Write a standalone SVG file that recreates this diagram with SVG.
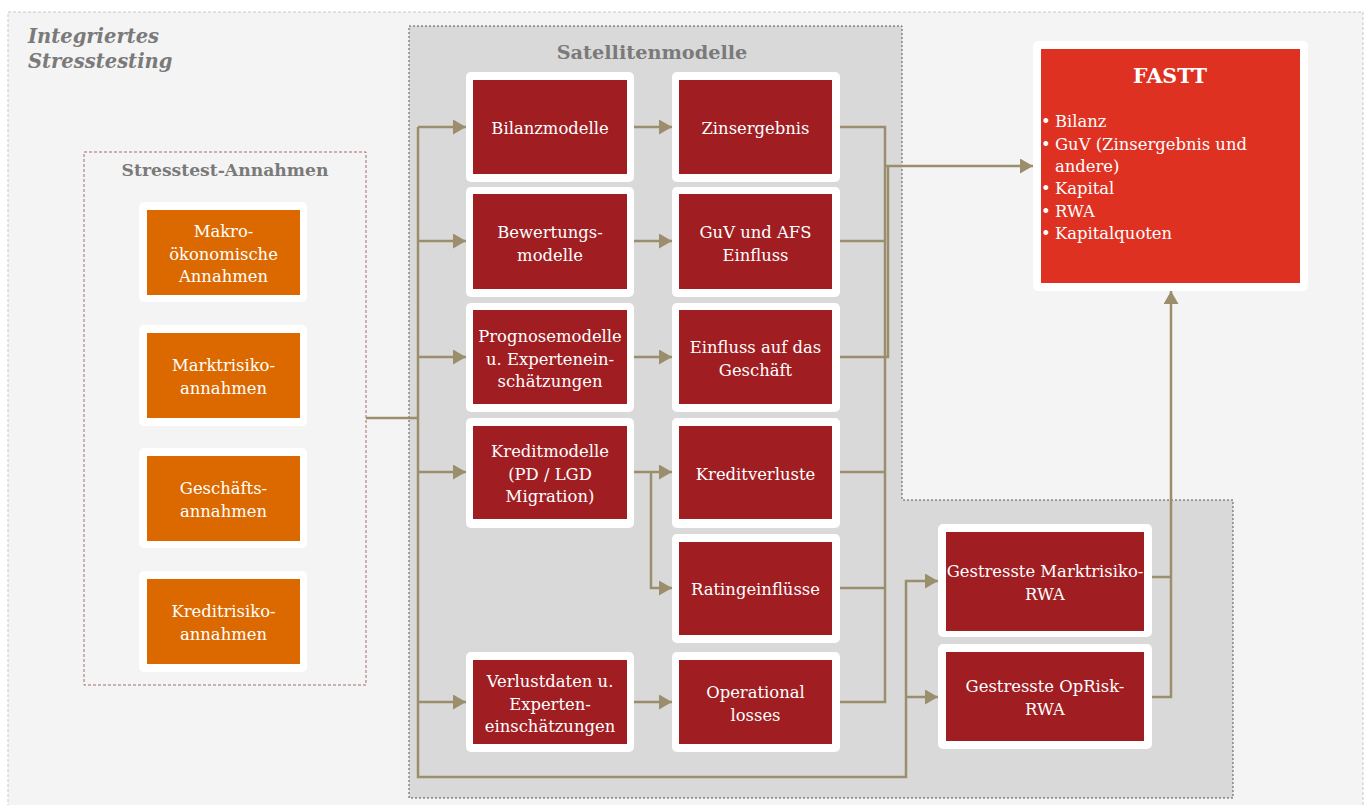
<svg xmlns="http://www.w3.org/2000/svg" width="1370" height="805" viewBox="0 0 1370 805">
<style>
.t{font-family:"DejaVu Serif","Liberation Serif",serif;font-size:16.4px;fill:#ffffff;text-anchor:middle}
.hdr{font-family:"DejaVu Serif","Liberation Serif",serif;font-weight:bold;fill:#7a7a7a;text-anchor:middle}
.wb{fill:#ffffff}
.red{fill:#a01e22}
.org{fill:#dc6900}
.c{fill:none;stroke:#9b8e6c;stroke-width:2.5}
</style>
<defs>
<marker id="ah" markerUnits="userSpaceOnUse" markerWidth="15" markerHeight="15" refX="13" refY="7.5" orient="auto"><path d="M0,0 L13,7.5 L0,15 Z" fill="#9b8e6c"/></marker>
</defs>
<rect x="0" y="0" width="1370" height="805" fill="#ffffff"/>
<rect x="8" y="12" width="1355" height="800" fill="#f4f4f4" stroke="#c8c8c8" stroke-width="1" stroke-dasharray="3,2"/>
<g id="title">
<text font-family="'DejaVu Serif','Liberation Serif',serif" font-weight="bold" font-style="italic" font-size="19.5px" fill="#7a7a7a"><tspan x="28" y="43">Integriertes</tspan><tspan x="28" y="68">Stresstesting</tspan></text>
</g>
<g id="containers">
<rect x="409" y="26" width="493" height="772" fill="#d9d9d9"/>
<rect x="902" y="500" width="331" height="298" fill="#d9d9d9"/>
<path d="M409,26 H902 V500 H1233 V798 H409 Z" fill="none" stroke="#555555" stroke-width="1" stroke-dasharray="2,2"/>
<rect x="84" y="152" width="282" height="533" fill="#f4f4f4" stroke="#a86a6a" stroke-width="1" stroke-dasharray="3,2"/>
<text class="hdr" x="652" y="59" style="font-size:19.3px">Satellitenmodelle</text>
<text class="hdr" x="225" y="176" style="font-size:17.2px">Stresstest-Annahmen</text>
</g>
<g id="makro"><rect class="wb" x="139" y="202" width="168" height="100" rx="5"/><rect class="org" x="147" y="210" width="153" height="85"/><text class="t"><tspan x="223.5" y="237">Makro-</tspan><tspan x="223.5" y="259.5">ökonomische</tspan><tspan x="223.5" y="282">Annahmen</tspan></text></g>
<g id="markt"><rect class="wb" x="139" y="325" width="168" height="101" rx="5"/><rect class="org" x="147" y="333" width="153" height="85"/><text class="t"><tspan x="223.5" y="371">Marktrisiko-</tspan><tspan x="223.5" y="394">annahmen</tspan></text></g>
<g id="geschaeft"><rect class="wb" x="139" y="448" width="168" height="100" rx="5"/><rect class="org" x="147" y="456" width="153" height="85"/><text class="t"><tspan x="223.5" y="494">Geschäfts-</tspan><tspan x="223.5" y="517">annahmen</tspan></text></g>
<g id="kredit"><rect class="wb" x="139" y="571" width="168" height="101" rx="5"/><rect class="org" x="147" y="579" width="153" height="85"/><text class="t"><tspan x="223.5" y="617">Kreditrisiko-</tspan><tspan x="223.5" y="640">annahmen</tspan></text></g>

<g id="bilanzmodelle"><rect class="wb" x="466" y="72" width="168" height="110" rx="5"/><rect class="red" x="473" y="80" width="154" height="94"/><text class="t" x="550" y="134">Bilanzmodelle</text></g>
<g id="zinsergebnis"><rect class="wb" x="672" y="72" width="168" height="110" rx="5"/><rect class="red" x="679" y="80" width="153" height="94"/><text class="t" x="755.5" y="134">Zinsergebnis</text></g>
<g id="bewertung"><rect class="wb" x="466" y="187" width="168" height="110" rx="5"/><rect class="red" x="473" y="194" width="154" height="95"/><text class="t"><tspan x="550" y="238">Bewertungs-</tspan><tspan x="550" y="260.5">modelle</tspan></text></g>
<g id="guv"><rect class="wb" x="672" y="187" width="168" height="110" rx="5"/><rect class="red" x="679" y="194" width="153" height="95"/><text class="t"><tspan x="755.5" y="238">GuV und AFS</tspan><tspan x="755.5" y="260.5">Einfluss</tspan></text></g>
<g id="prognose"><rect class="wb" x="466" y="303" width="168" height="109" rx="5"/><rect class="red" x="473" y="310" width="154" height="94"/><text class="t"><tspan x="550" y="342">Prognosemodelle</tspan><tspan x="550" y="364.5">u. Expertenein-</tspan><tspan x="550" y="387">schätzungen</tspan></text></g>
<g id="einfluss"><rect class="wb" x="672" y="303" width="168" height="109" rx="5"/><rect class="red" x="679" y="310" width="153" height="94"/><text class="t"><tspan x="755.5" y="353">Einfluss auf das</tspan><tspan x="755.5" y="375.5">Geschäft</tspan></text></g>
<g id="kreditmodelle"><rect class="wb" x="466" y="418" width="168" height="110" rx="5"/><rect class="red" x="473" y="426" width="154" height="93"/><text class="t"><tspan x="550" y="457">Kreditmodelle</tspan><tspan x="550" y="479.5">(PD / LGD</tspan><tspan x="550" y="502">Migration)</tspan></text></g>
<g id="kreditverluste"><rect class="wb" x="672" y="418" width="168" height="110" rx="5"/><rect class="red" x="679" y="426" width="153" height="93"/><text class="t" x="755.5" y="480">Kreditverluste</text></g>
<g id="rating"><rect class="wb" x="672" y="534" width="168" height="109" rx="5"/><rect class="red" x="679" y="542" width="153" height="93"/><text class="t" x="755.5" y="595">Ratingeinflüsse</text></g>
<g id="verlustdaten"><rect class="wb" x="466" y="652" width="168" height="100" rx="5"/><rect class="red" x="473" y="660" width="154" height="84"/><text class="t"><tspan x="550" y="687">Verlustdaten u.</tspan><tspan x="550" y="709.5">Experten-</tspan><tspan x="550" y="732">einschätzungen</tspan></text></g>
<g id="oplosses"><rect class="wb" x="672" y="652" width="168" height="100" rx="5"/><rect class="red" x="679" y="660" width="153" height="84"/><text class="t"><tspan x="755.5" y="698">Operational</tspan><tspan x="755.5" y="720.5">losses</tspan></text></g>

<g id="rwa_markt"><rect class="wb" x="938" y="524" width="214" height="113" rx="5"/><rect class="red" x="946" y="532" width="198" height="99"/><text class="t"><tspan x="1045" y="577">Gestresste Marktrisiko-</tspan><tspan x="1045" y="599.5">RWA</tspan></text></g>
<g id="rwa_oprisk"><rect class="wb" x="938" y="644" width="214" height="105" rx="5"/><rect class="red" x="946" y="652" width="198" height="89"/><text class="t"><tspan x="1045" y="692">Gestresste OpRisk-</tspan><tspan x="1045" y="714.5">RWA</tspan></text></g>

<g id="fastt"><rect class="wb" x="1033" y="41" width="275" height="250" rx="5"/><rect x="1041" y="49" width="259" height="234" fill="#de3121"/>
<text class="t" x="1170" y="83" style="font-weight:bold;font-size:20.5px">FASTT</text>
<text font-family="'DejaVu Serif','Liberation Serif',serif" font-size="16.4px" fill="#ffffff"><tspan x="1041" y="127">•</tspan><tspan x="1055" y="127">Bilanz</tspan><tspan x="1041" y="149.5">•</tspan><tspan x="1055" y="149.5">GuV (Zinsergebnis und</tspan><tspan x="1055" y="172">andere)</tspan><tspan x="1041" y="194">•</tspan><tspan x="1055" y="194">Kapital</tspan><tspan x="1041" y="216.5">•</tspan><tspan x="1055" y="216.5">RWA</tspan><tspan x="1041" y="239">•</tspan><tspan x="1055" y="239">Kapitalquoten</tspan></text>
</g>

<g id="connectors">
<path class="c" d="M366,418 H418"/>
<path class="c" d="M418,127 V777 H906 V581 H938" marker-end="url(#ah)"/>
<path class="c" d="M418,127 H466" marker-end="url(#ah)"/>
<path class="c" d="M418,241 H466" marker-end="url(#ah)"/>
<path class="c" d="M418,357 H466" marker-end="url(#ah)"/>
<path class="c" d="M418,472 H466" marker-end="url(#ah)"/>
<path class="c" d="M418,702 H466" marker-end="url(#ah)"/>
<path class="c" d="M906,697 H938" marker-end="url(#ah)"/>
<path class="c" d="M634,127 H672" marker-end="url(#ah)"/>
<path class="c" d="M634,241 H672" marker-end="url(#ah)"/>
<path class="c" d="M634,357 H672" marker-end="url(#ah)"/>
<path class="c" d="M634,472 H672" marker-end="url(#ah)"/>
<path class="c" d="M651,472 V588 H672" marker-end="url(#ah)"/>
<path class="c" d="M634,702 H672" marker-end="url(#ah)"/>
<path class="c" d="M840,127 H885 V702 H840"/>
<path class="c" d="M840,241 H885"/>
<path class="c" d="M840,357 H888 V166"/>
<path class="c" d="M840,472 H885"/>
<path class="c" d="M840,588 H885"/>
<path class="c" d="M885,166 H1033" marker-end="url(#ah)"/>
<path class="c" d="M1152,577 H1171"/>
<path class="c" d="M1152,697 H1171 V291" marker-end="url(#ah)"/>
</g>
</svg>
